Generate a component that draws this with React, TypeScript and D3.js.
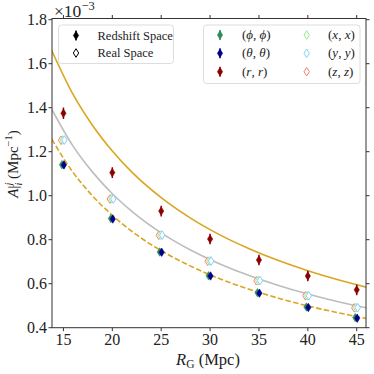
import React from "react";
import * as d3 from "d3";

// smoothing scales R_G (Mpc)
const radii = [15, 20, 25, 30, 35, 40, 45];

// measured amplitudes (x 1e-3 Mpc^-1)
const phiVals = [1.141, 0.896, 0.744, 0.636, 0.559, 0.494, 0.446];
const thetaVals = [1.14, 0.894, 0.743, 0.635, 0.557, 0.492, 0.443];
const rVals = [1.375, 1.105, 0.93, 0.803, 0.708, 0.635, 0.572];
const xVals = [1.253, 0.986, 0.821, 0.703, 0.614, 0.545, 0.491];
const yVals = [1.253, 0.985, 0.821, 0.703, 0.614, 0.545, 0.491];
const zVals = [1.252, 0.985, 0.82, 0.702, 0.613, 0.545, 0.49];

const phiErr = [0.012, 0.01, 0.009, 0.008, 0.008, 0.008, 0.008];
const thetaErr = [0.016, 0.013, 0.012, 0.011, 0.011, 0.011, 0.011];
const rErr = [0.026, 0.024, 0.024, 0.024, 0.024, 0.024, 0.024];

// theory curves
const curveR = [13.8, 16, 18, 20, 22, 25, 28, 31, 34, 37, 40, 43, 46];
const zsCurve = [1.66, 1.459, 1.318, 1.203, 1.107, 0.991, 0.898, 0.822, 0.759, 0.705, 0.659, 0.619, 0.584];
const realCurve = [1.393, 1.224, 1.106, 1.009, 0.929, 0.831, 0.753, 0.69, 0.637, 0.592, 0.553, 0.519, 0.49];
const dashCurve = [1.257, 1.105, 0.998, 0.911, 0.838, 0.75, 0.68, 0.622, 0.575, 0.534, 0.499, 0.469, 0.442];

const xTicks = [15, 20, 25, 30, 35, 40, 45];
const yTicks = [0.4, 0.6, 0.8, 1.0, 1.2, 1.4, 1.6, 1.8];

const FONT = "Liberation Serif, DejaVu Serif, serif";
const ORANGE = "#daa520";
const GREY = "#bdbdbd";

const series = [
  { key: "phi", vals: phiVals, err: phiErr, color: "#2e8b57", filled: true, dx: -0.15 },
  { key: "theta", vals: thetaVals, err: thetaErr, color: "#00008b", filled: true, dx: 0.05 },
  { key: "r", vals: rVals, err: rErr, color: "#8b0000", filled: true, dx: 0 },
  { key: "z", vals: zVals, err: null, color: "#fa8072", filled: false, dx: -0.25 },
  { key: "x", vals: xVals, err: null, color: "#90ee90", filled: false, dx: -0.07 },
  { key: "y", vals: yVals, err: null, color: "#87cefa", filled: false, dx: 0.1 },
];

const diamond = (w: number, h: number) => `M0,${-h}L${w},0L0,${h}L${-w},0Z`;

const Marker = ({ cx, cy, color, filled, err }: any) => (
  <g transform={`translate(${cx},${cy})`}>
    {err != null && <line x1={0} x2={0} y1={-err} y2={err} stroke={color} strokeWidth={1.5} />}
    {filled ? (
      <path d={diamond(2.6, 4.2)} fill={color} stroke={color} strokeWidth={0.6} />
    ) : (
      <path d={diamond(2.7, 4.3)} fill="white" stroke={color} strokeWidth={1} />
    )}
  </g>
);

const T = (props: any) => <text {...props} style={{ fontFamily: FONT }} fill="#222" />;

export default function App() {
  const left = 52, right = 366, top = 18.5, bottom = 327.7;
  const x = d3.scaleLinear().domain([13.83, 45.95]).range([left, right]);
  const y = d3.scaleLinear().domain([0.4, 1.8]).range([bottom, top + 1.2]);

  const line = (vals: number[]) =>
    d3.line<number>()
      .x((_, i) => x(curveR[i]))
      .y((d) => y(d))
      .curve(d3.curveMonotoneX)(vals) as string;

  return (
    <svg width={374} height={374} style={{ position: "absolute", left: 0, top: 0, background: "white" }}>
      <defs>
        <clipPath id="plot">
          <rect x={left} y={top} width={right - left} height={bottom - top} />
        </clipPath>
      </defs>
      <g clipPath="url(#plot)">
        <path d={line(zsCurve)} fill="none" stroke={ORANGE} strokeWidth={1.6} />
        <path d={line(realCurve)} fill="none" stroke={GREY} strokeWidth={1.6} />
        <path d={line(dashCurve)} fill="none" stroke={ORANGE} strokeWidth={1.6} strokeDasharray="5.5,2.4" />
        {series.map((s) =>
          s.vals.map((v, i) => (
            <Marker key={s.key + i} cx={x(radii[i] + s.dx)} cy={y(v)} color={s.color} filled={s.filled}
              err={s.err ? y(v - s.err[i]) - y(v) : null} />
          ))
        )}
      </g>

      {/* frame */}
      <rect x={left} y={top} width={right - left} height={bottom - top} fill="none" stroke="#333" strokeWidth={1} />
      {xTicks.map((t) => (
        <g key={"xt" + t}>
          <line x1={x(t)} x2={x(t)} y1={bottom} y2={bottom + 3.5} stroke="#333" />
          <line x1={x(t)} x2={x(t)} y1={top} y2={top - 3.5} stroke="#333" />
          <T x={x(t)} y={bottom + 17} textAnchor="middle" fontSize={16}>{t}</T>
        </g>
      ))}
      {yTicks.map((t) => (
        <g key={"yt" + t}>
          <line x1={left} x2={left - 3.5} y1={y(t)} y2={y(t)} stroke="#333" />
          <line x1={right} x2={right + 3.5} y1={y(t)} y2={y(t)} stroke="#333" />
          <T x={left - 5} y={y(t) + 5} textAnchor="end" fontSize={16}>{d3.format(".1f")(t)}</T>
        </g>
      ))}
      <T x={54} y={17} fontSize={17.5}>
        ×10<tspan dy={-7.5} fontSize={12.5}>−3</tspan>
      </T>

      {/* axis labels */}
      <T x={208} y={365} textAnchor="middle" fontSize={16.5}>
        <tspan fontStyle="italic">R</tspan>
        <tspan dy={3} fontSize={11.5}>G</tspan>
        <tspan dy={-3}> (Mpc)</tspan>
      </T>
      <T transform="translate(18,164) rotate(-90)" textAnchor="middle" fontSize={15}>
        <tspan fontStyle="italic">A</tspan>
        <tspan>|</tspan>
        <tspan dy={-6} fontSize={10.5} fontStyle="italic">j</tspan>
        <tspan dx={-3} dy={10} fontSize={10.5} fontStyle="italic">i</tspan>
        <tspan dy={-4}> (Mpc</tspan>
        <tspan dy={-6} fontSize={10.5}>−1</tspan>
        <tspan dy={6}>)</tspan>
      </T>

      {/* left legend */}
      <rect x={58.5} y={25} width={115} height={38.5} rx={3} fill="white" fillOpacity={0.85} stroke="#ddd" />
      <Marker cx={76} cy={35.5} color="black" filled err={5} />
      <T x={97.5} y={39.5} fontSize={12.5}>Redshift Space</T>
      <Marker cx={76} cy={53} color="black" filled={false} err={null} />
      <T x={97.5} y={57} fontSize={12.5}>Real Space</T>

      {/* right legend */}
      <rect x={203.5} y={25} width={156.5} height={58.5} rx={3} fill="white" fillOpacity={0.85} stroke="#ddd" />
      {[
        { s: series[0], lab: ["ϕ", "ϕ"], cx: 220, tx: 242, cy: 35 },
        { s: series[1], lab: ["θ", "θ"], cx: 220, tx: 242, cy: 53.3 },
        { s: series[2], lab: ["r", "r"], cx: 220, tx: 242, cy: 71.7 },
        { s: series[4], lab: ["x", "x"], cx: 306.7, tx: 328, cy: 35 },
        { s: series[5], lab: ["y", "y"], cx: 306.7, tx: 328, cy: 53.3 },
        { s: series[3], lab: ["z", "z"], cx: 306.7, tx: 328, cy: 71.7 },
      ].map((e) => (
        <g key={"lg" + e.s.key}>
          <Marker cx={e.cx} cy={e.cy} color={e.s.color} filled={e.s.filled} err={e.s.filled ? 5 : null} />
          <T x={e.tx} y={e.cy + 4} fontSize={13}>
            (<tspan fontStyle="italic">{e.lab[0]}</tspan>, <tspan fontStyle="italic">{e.lab[1]}</tspan>)
          </T>
        </g>
      ))}
    </svg>
  );
}
